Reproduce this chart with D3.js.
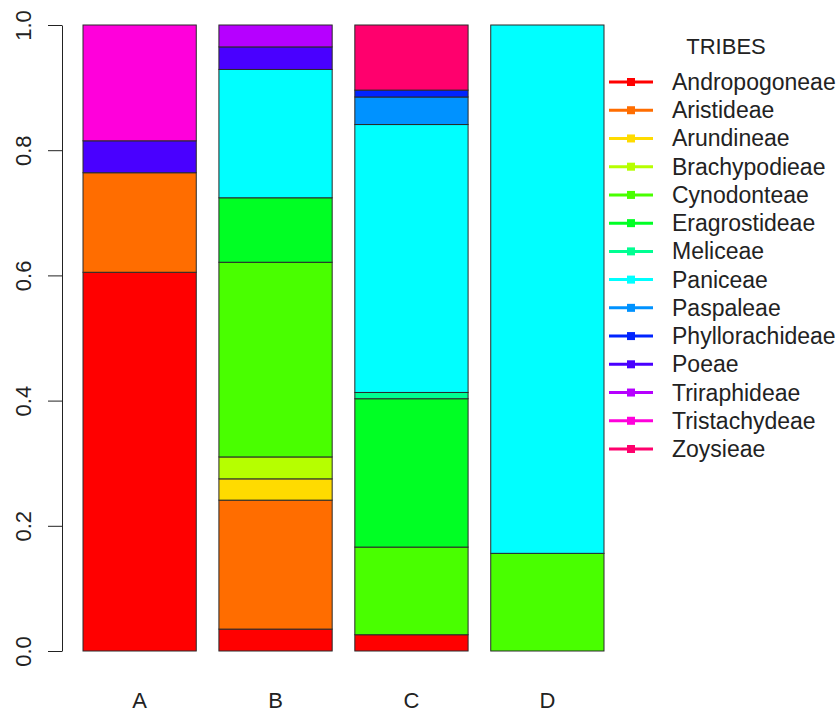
<!DOCTYPE html>
<html>
<head>
<meta charset="utf-8">
<script src="https://cdn.jsdelivr.net/npm/d3@7"></script>
<style>
  body { margin: 0; background: #fff; }
  svg { font-family: "Liberation Sans", Arial, sans-serif; }
</style>
</head>
<body>
<svg id="chart" width="839" height="714"></svg>
<script>
// tribes, bottom-to-top stacking order (same as legend order)
const tribes = ['Andropogoneae', 'Aristideae', 'Arundineae', 'Brachypodieae', 'Cynodonteae',
  'Eragrostideae', 'Meliceae', 'Paniceae', 'Paspaleae', 'Phyllorachideae', 'Poeae',
  'Triraphideae', 'Tristachydeae', 'Zoysieae'];
const tribeColors = ['#FF0000', '#FF6D00', '#FFDB00', '#B6FF00', '#49FF00', '#00FF24', '#00FF92',
  '#00FFFF', '#0092FF', '#0024FF', '#4900FF', '#B600FF', '#FF00DB', '#FF006D'];

const groups = ['A', 'B', 'C', 'D'];
// proportions per tribe, in tribe order
const groupA = [0.605, 0.159, 0, 0, 0, 0, 0, 0, 0, 0, 0.051, 0, 0.185, 0];
const groupB = [0.035, 0.206, 0.034, 0.035, 0.311, 0.103, 0, 0.205, 0, 0, 0.036, 0.035, 0, 0];
const groupC = [0.026, 0, 0, 0, 0.140, 0.237, 0.010, 0.428, 0.044, 0.011, 0, 0, 0, 0.104];
const groupD = [0, 0, 0, 0, 0.156, 0, 0, 0.844, 0, 0, 0, 0, 0, 0];

const yTicks = [0, 0.2, 0.4, 0.6, 0.8, 1.0];

const svg = d3.select('#chart');

const rows = [groupA, groupB, groupC, groupD].map((vals, i) => {
  const r = { group: groups[i] };
  tribes.forEach((t, j) => { r[t] = vals[j]; });
  return r;
});

const x = d3.scaleBand().domain(groups).range([83, 604]).paddingInner(1 / 6).paddingOuter(0);
const y = d3.scaleLinear().domain([0, 1]).range([651, 25]);
const color = d3.scaleOrdinal().domain(tribes).range(tribeColors);

const series = d3.stack().keys(tribes)(rows);

// stacked bars
svg.append('g')
  .selectAll('g')
  .data(series)
  .join('g')
  .attr('fill', d => color(d.key))
  .selectAll('rect')
  .data(d => d.filter(s => s[1] - s[0] > 0))
  .join('rect')
  .attr('x', d => x(d.data.group))
  .attr('y', d => y(d[1]))
  .attr('width', x.bandwidth())
  .attr('height', d => y(d[0]) - y(d[1]))
  .attr('stroke', '#2a2a2a')
  .attr('stroke-width', 1);

// y axis
const yAxis = svg.append('g')
  .attr('transform', 'translate(62,0)')
  .call(d3.axisLeft(y).tickValues(yTicks).tickFormat(d3.format('.1f')).tickSize(14).tickSizeOuter(0));
yAxis.select('.domain').attr('stroke', '#222');
yAxis.selectAll('.tick line').attr('stroke', '#222');
yAxis.selectAll('.tick text')
  .attr('x', 0).attr('dy', 0)
  .attr('transform', 'translate(-31,0) rotate(-90)')
  .attr('text-anchor', 'middle')
  .attr('font-size', 22)
  .attr('font-family', '"Liberation Sans", Arial, sans-serif')
  .attr('fill', '#222');

// x labels
svg.append('g')
  .selectAll('text')
  .data(groups)
  .join('text')
  .attr('x', d => x(d) + x.bandwidth() / 2)
  .attr('y', 708)
  .attr('text-anchor', 'middle')
  .attr('font-size', 22)
  .attr('fill', '#222')
  .text(d => d);

// legend
const legend = svg.append('g');
legend.append('text')
  .attr('x', 726).attr('y', 54)
  .attr('text-anchor', 'middle')
  .attr('font-size', 22)
  .attr('fill', '#222')
  .text('TRIBES');

const ly = d3.scalePoint().domain(tribes).range([82, 449]);
const item = legend.selectAll('g.item')
  .data(tribes)
  .join('g')
  .attr('class', 'item')
  .attr('transform', d => `translate(0,${ly(d)})`);
item.append('line')
  .attr('x1', 609).attr('x2', 653)
  .attr('stroke', d => color(d))
  .attr('stroke-width', 3);
item.append('rect')
  .attr('x', 627).attr('y', -4)
  .attr('width', 8).attr('height', 8)
  .attr('fill', d => color(d));
item.append('text')
  .attr('x', 672).attr('y', 8)
  .attr('font-size', 23)
  .attr('fill', '#222')
  .text(d => d);
</script>
</body>
</html>
